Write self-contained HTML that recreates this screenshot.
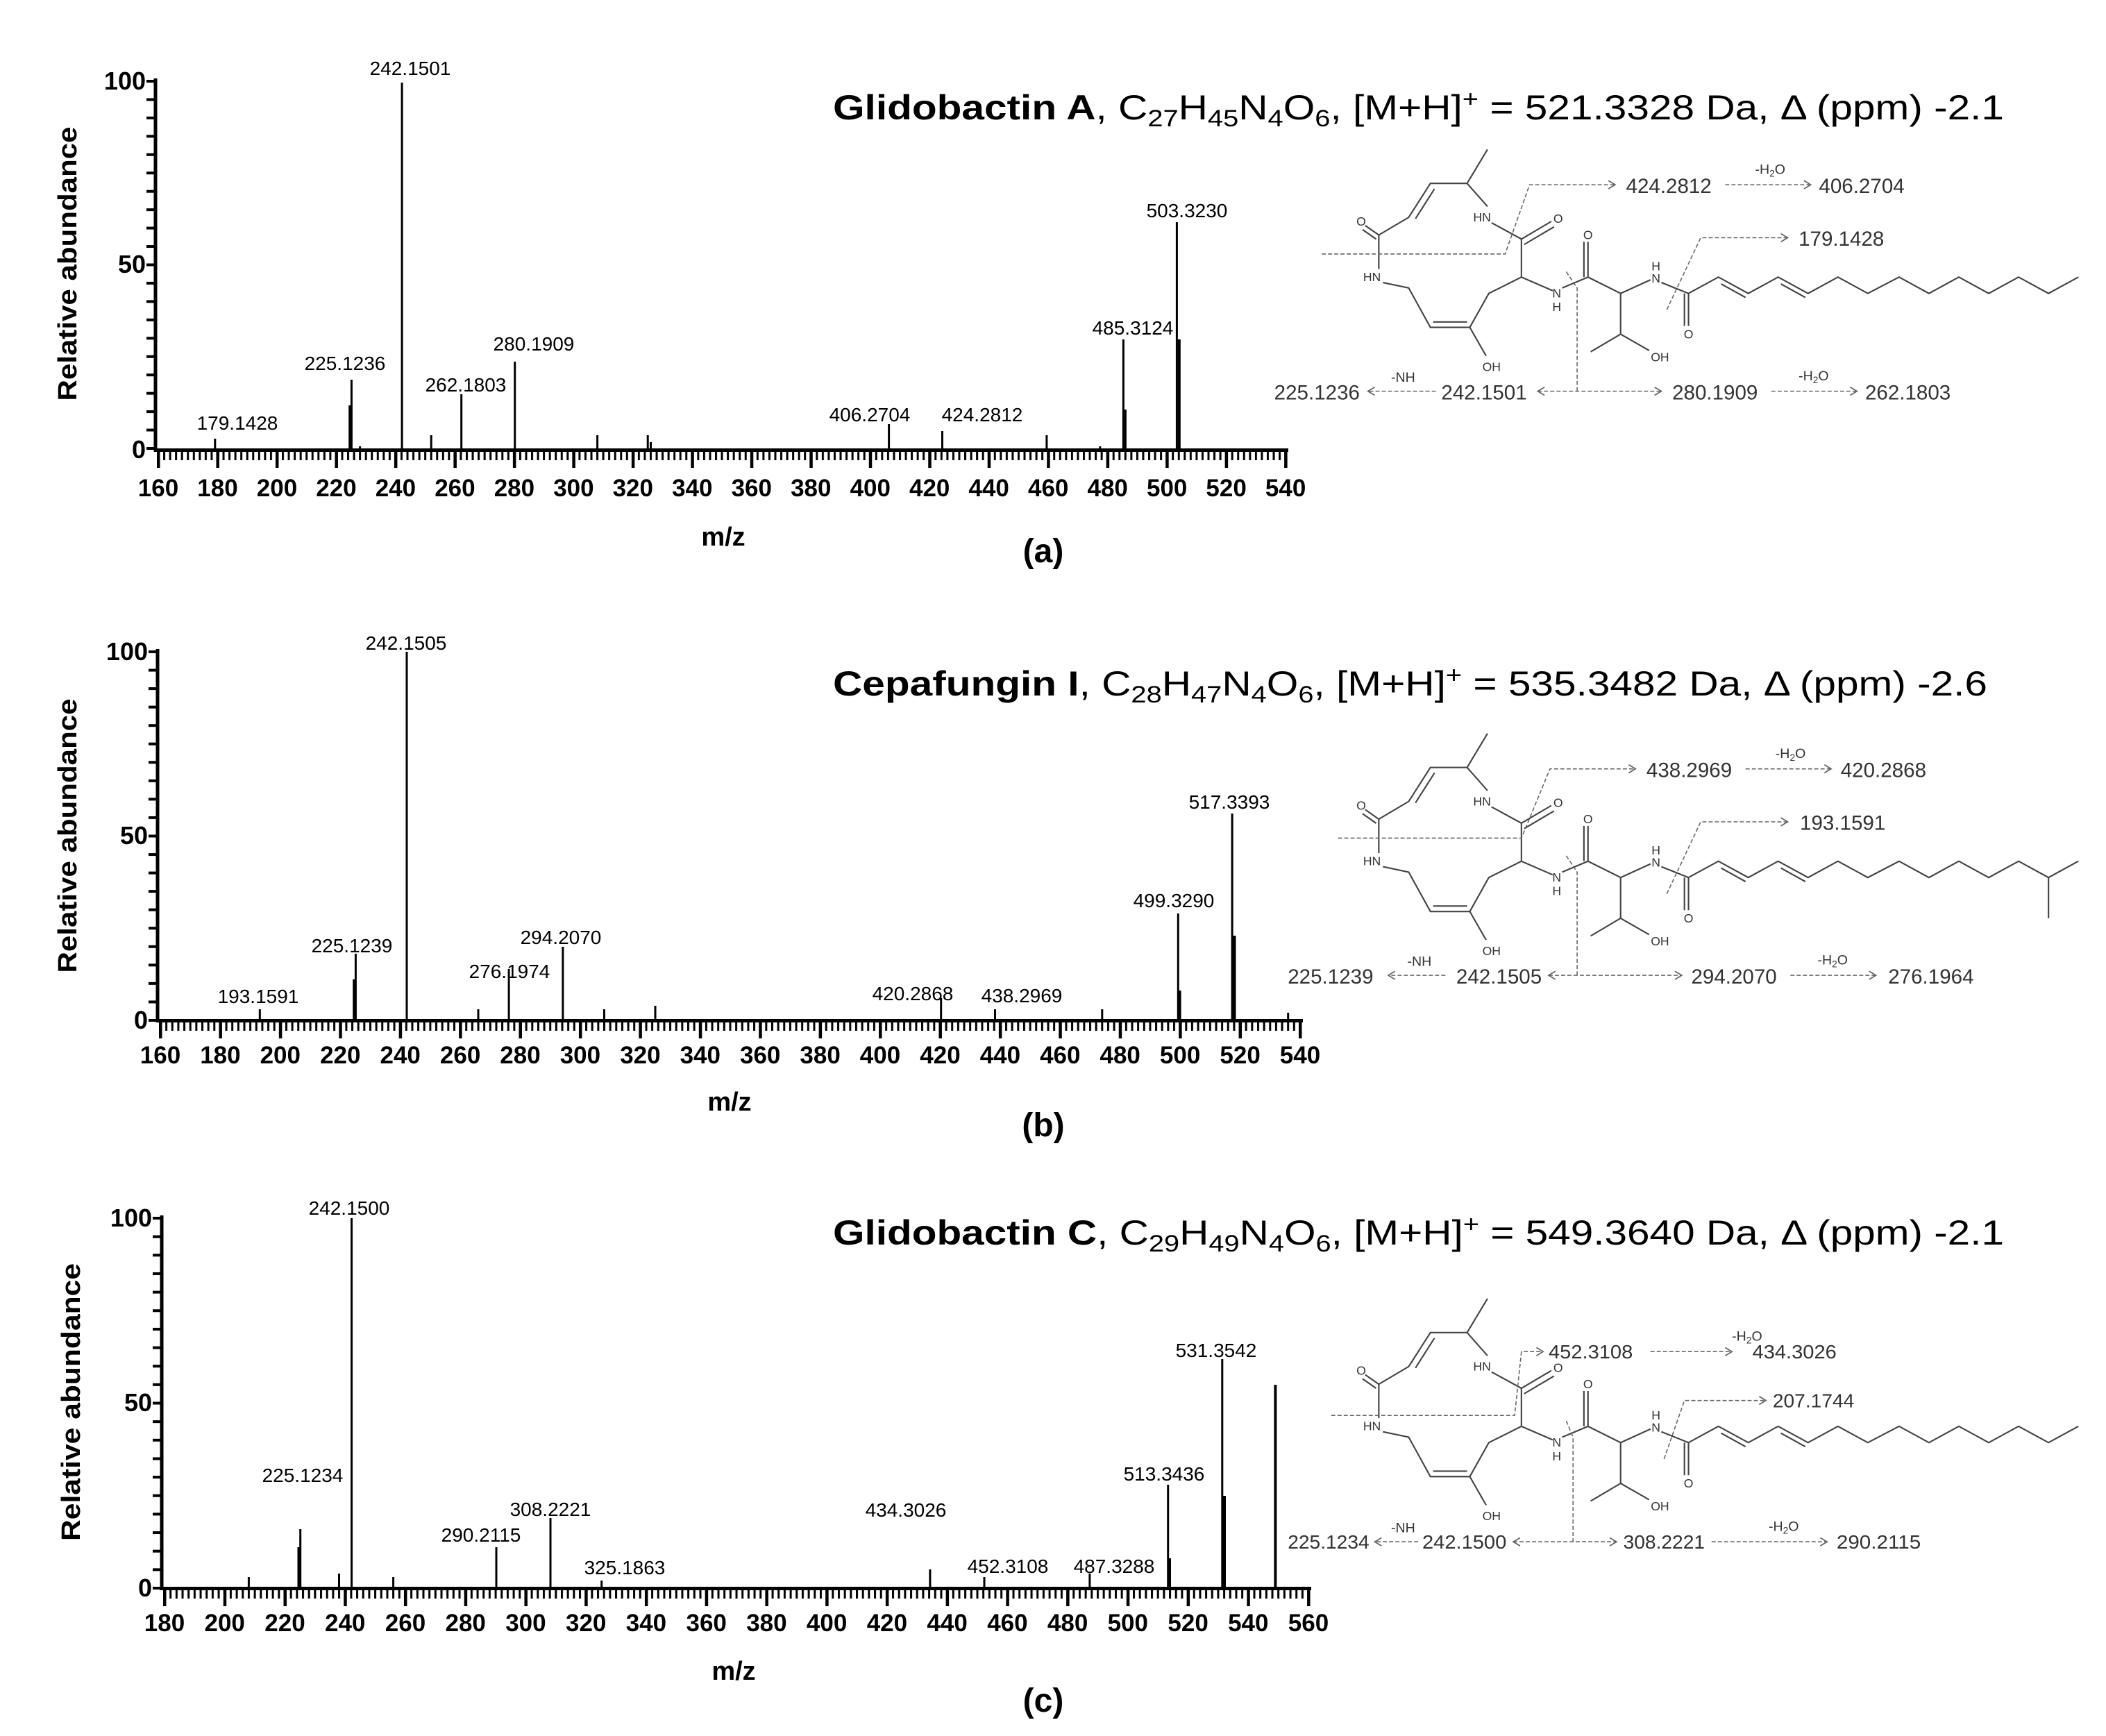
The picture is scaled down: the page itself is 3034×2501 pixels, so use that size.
<!DOCTYPE html>
<html><head><meta charset="utf-8"><style>
html,body{margin:0;padding:0;background:#fff;}
svg{display:block;font-family:"Liberation Sans",Arial,sans-serif;}
</style></head><body>
<svg width="3034" height="2501" viewBox="0 0 3034 2501" xmlns="http://www.w3.org/2000/svg">
<defs>
<pattern id="am" x="226.5" y="0" width="8.548" height="100" patternUnits="userSpaceOnUse"><rect width="3" height="100" fill="#000"/></pattern>
<pattern id="aM" x="226" y="0" width="85.48" height="100" patternUnits="userSpaceOnUse"><rect width="4.5" height="100" fill="#000"/></pattern>
<pattern id="bm" x="229.5" y="0" width="8.642" height="100" patternUnits="userSpaceOnUse"><rect width="3" height="100" fill="#000"/></pattern>
<pattern id="bM" x="229" y="0" width="86.42" height="100" patternUnits="userSpaceOnUse"><rect width="4.5" height="100" fill="#000"/></pattern>
<pattern id="cm" x="235.5" y="0" width="8.674" height="100" patternUnits="userSpaceOnUse"><rect width="3" height="100" fill="#000"/></pattern>
<pattern id="cM" x="235" y="0" width="86.74" height="100" patternUnits="userSpaceOnUse"><rect width="4.5" height="100" fill="#000"/></pattern>
<pattern id="ay" x="0" y="115" width="100" height="26.45" patternUnits="userSpaceOnUse"><rect width="100" height="4" fill="#000"/></pattern>
<pattern id="by" x="0" y="937" width="100" height="26.55" patternUnits="userSpaceOnUse"><rect width="100" height="4" fill="#000"/></pattern>
<pattern id="cy" x="0" y="1753" width="100" height="26.65" patternUnits="userSpaceOnUse"><rect width="100" height="4" fill="#000"/></pattern>
<marker id="ar" markerWidth="8" markerHeight="8" refX="6" refY="4" orient="auto-start-reverse" markerUnits="userSpaceOnUse"><path d="M1,1 L6,4 L1,7" fill="none" stroke="#666" stroke-width="0.9"/></marker>
</defs>
<rect width="3034" height="2501" fill="#fff"/>

<!-- ===================== PANEL A ===================== -->
<g>
<rect x="226" y="650" width="1630" height="13" fill="url(#am)"/>
<rect x="226" y="650" width="1630" height="24" fill="url(#aM)"/>
<rect x="211" y="115" width="13" height="536" fill="url(#ay)"/>
<line x1="224" y1="113" x2="224" y2="651" stroke="#000" stroke-width="5"/>
<line x1="222" y1="648.5" x2="1856" y2="648.5" stroke="#000" stroke-width="5"/>
<g font-weight="bold" font-size="36" text-anchor="end"><text x="210" y="129">100</text><text x="210" y="393">50</text><text x="210" y="660">0</text></g>
<g font-weight="bold" font-size="35" text-anchor="middle">
<text x="228" y="715">160</text><text x="313.5" y="715">180</text><text x="399" y="715">200</text><text x="484.4" y="715">220</text><text x="569.9" y="715">240</text><text x="655.4" y="715">260</text><text x="740.9" y="715">280</text><text x="826.4" y="715">300</text><text x="911.8" y="715">320</text><text x="997.3" y="715">340</text><text x="1082.8" y="715">360</text><text x="1168.3" y="715">380</text><text x="1253.8" y="715">400</text><text x="1339.2" y="715">420</text><text x="1424.7" y="715">440</text><text x="1510.2" y="715">460</text><text x="1595.7" y="715">480</text><text x="1681.2" y="715">500</text><text x="1766.6" y="715">520</text><text x="1852.1" y="715">540</text>
</g>
<text x="1042" y="786" font-weight="bold" font-size="38" text-anchor="middle">m/z</text>
<text x="1503" y="810" font-weight="bold" font-size="48" text-anchor="middle">(a)</text>
<text transform="translate(110,380) rotate(-90)" font-weight="bold" font-size="38" text-anchor="middle" textLength="395" lengthAdjust="spacingAndGlyphs">Relative abundance</text>
<g stroke="#000" stroke-width="3">
<line x1="309.8" y1="648" x2="309.8" y2="632"/><line x1="503.7" y1="648" x2="503.7" y2="584"/><line x1="506.4" y1="648" x2="506.4" y2="547"/><line x1="518.6" y1="648" x2="518.6" y2="643"/><line x1="579.1" y1="648" x2="579.1" y2="119"/><line x1="621.2" y1="648" x2="621.2" y2="627"/><line x1="664.7" y1="648" x2="664.7" y2="568"/><line x1="741.7" y1="648" x2="741.7" y2="521"/><line x1="860.6" y1="648" x2="860.6" y2="627"/><line x1="933.2" y1="648" x2="933.2" y2="627"/><line x1="937.5" y1="648" x2="937.5" y2="637"/><line x1="1280.6" y1="648" x2="1280.6" y2="611"/><line x1="1357.5" y1="648" x2="1357.5" y2="621"/><line x1="1507.9" y1="648" x2="1507.9" y2="627"/><line x1="1584.8" y1="648" x2="1584.8" y2="643"/><line x1="1618.4" y1="648" x2="1618.4" y2="489"/><line x1="1621.4" y1="648" x2="1621.4" y2="590"/><line x1="1695.4" y1="648" x2="1695.4" y2="320"/><line x1="1698.8" y1="648" x2="1698.8" y2="489" stroke-width="4"/>
</g>
<g font-size="28" text-anchor="middle">
<text x="342" y="619">179.1428</text><text x="497" y="533">225.1236</text><text x="591" y="108">242.1501</text><text x="671" y="564">262.1803</text><text x="769" y="505">280.1909</text><text x="1253" y="607">406.2704</text><text x="1415" y="607">424.2812</text><text x="1632" y="482">485.3124</text><text x="1710" y="313">503.3230</text>
</g>
<text x="1200" y="172" font-size="50" textLength="1687" lengthAdjust="spacingAndGlyphs"><tspan font-weight="bold">Glidobactin A</tspan>, C<tspan font-size="34" dy="10">27</tspan><tspan dy="-10">H</tspan><tspan font-size="34" dy="10">45</tspan><tspan dy="-10">N</tspan><tspan font-size="34" dy="10">4</tspan><tspan dy="-10">O</tspan><tspan font-size="34" dy="10">6</tspan><tspan dy="-10">, [M+H]</tspan><tspan font-size="34" dy="-18">+</tspan><tspan dy="18"> = 521.3328 Da, Δ (ppm) -2.1</tspan></text>
</g>

<!-- ===================== PANEL B ===================== -->
<g>
<rect x="229" y="1472" width="1648" height="13" fill="url(#bm)"/>
<rect x="229" y="1472" width="1648" height="24" fill="url(#bM)"/>
<rect x="214" y="937" width="13" height="536" fill="url(#by)"/>
<line x1="227" y1="935" x2="227" y2="1473" stroke="#000" stroke-width="5"/>
<line x1="225" y1="1470.5" x2="1877" y2="1470.5" stroke="#000" stroke-width="5"/>
<g font-weight="bold" font-size="36" text-anchor="end"><text x="213" y="951">100</text><text x="213" y="1216">50</text><text x="213" y="1482">0</text></g>
<g font-weight="bold" font-size="35" text-anchor="middle">
<text x="231" y="1532">160</text><text x="317.4" y="1532">180</text><text x="403.8" y="1532">200</text><text x="490.3" y="1532">220</text><text x="576.7" y="1532">240</text><text x="663.1" y="1532">260</text><text x="749.5" y="1532">280</text><text x="835.9" y="1532">300</text><text x="922.4" y="1532">320</text><text x="1008.8" y="1532">340</text><text x="1095.2" y="1532">360</text><text x="1181.6" y="1532">380</text><text x="1268" y="1532">400</text><text x="1354.5" y="1532">420</text><text x="1440.9" y="1532">440</text><text x="1527.3" y="1532">460</text><text x="1613.7" y="1532">480</text><text x="1700.1" y="1532">500</text><text x="1786.6" y="1532">520</text><text x="1873" y="1532">540</text>
</g>
<text x="1051" y="1600" font-weight="bold" font-size="38" text-anchor="middle">m/z</text>
<text x="1503" y="1637" font-weight="bold" font-size="48" text-anchor="middle">(b)</text>
<text transform="translate(110,1204) rotate(-90)" font-weight="bold" font-size="38" text-anchor="middle" textLength="395" lengthAdjust="spacingAndGlyphs">Relative abundance</text>
<g stroke="#000" stroke-width="3">
<line x1="374.3" y1="1470" x2="374.3" y2="1454"/><line x1="509.7" y1="1470" x2="509.7" y2="1411"/><line x1="512.4" y1="1470" x2="512.4" y2="1374"/><line x1="586" y1="1470" x2="586" y2="939"/><line x1="689" y1="1470" x2="689" y2="1454"/><line x1="733.1" y1="1470" x2="733.1" y2="1396"/><line x1="810.9" y1="1470" x2="810.9" y2="1364"/><line x1="870.5" y1="1470" x2="870.5" y2="1454"/><line x1="944" y1="1470" x2="944" y2="1449"/><line x1="1355.7" y1="1470" x2="1355.7" y2="1438"/><line x1="1433.5" y1="1470" x2="1433.5" y2="1454"/><line x1="1587.8" y1="1470" x2="1587.8" y2="1454"/><line x1="1697.3" y1="1470" x2="1697.3" y2="1316"/><line x1="1700.1" y1="1470" x2="1700.1" y2="1427"/><line x1="1775.1" y1="1470" x2="1775.1" y2="1172"/><line x1="1778.5" y1="1470" x2="1778.5" y2="1348" stroke-width="4"/><line x1="1855.7" y1="1470" x2="1855.7" y2="1459"/>
</g>
<g font-size="28" text-anchor="middle">
<text x="372" y="1445">193.1591</text><text x="507" y="1372">225.1239</text><text x="585" y="936">242.1505</text><text x="734" y="1409">276.1974</text><text x="808" y="1360">294.2070</text><text x="1315" y="1441">420.2868</text><text x="1472" y="1444">438.2969</text><text x="1691" y="1307">499.3290</text><text x="1771" y="1165">517.3393</text>
</g>
<text x="1200" y="1002" font-size="50" textLength="1663" lengthAdjust="spacingAndGlyphs"><tspan font-weight="bold">Cepafungin I</tspan>, C<tspan font-size="34" dy="10">28</tspan><tspan dy="-10">H</tspan><tspan font-size="34" dy="10">47</tspan><tspan dy="-10">N</tspan><tspan font-size="34" dy="10">4</tspan><tspan dy="-10">O</tspan><tspan font-size="34" dy="10">6</tspan><tspan dy="-10">, [M+H]</tspan><tspan font-size="34" dy="-18">+</tspan><tspan dy="18"> = 535.3482 Da, Δ (ppm) -2.6</tspan></text>
</g>

<!-- ===================== PANEL C ===================== -->
<g>
<rect x="235" y="2290" width="1654" height="13" fill="url(#cm)"/>
<rect x="235" y="2290" width="1654" height="24" fill="url(#cM)"/>
<rect x="220" y="1753" width="13" height="537" fill="url(#cy)"/>
<line x1="233" y1="1751" x2="233" y2="2291" stroke="#000" stroke-width="5"/>
<line x1="231" y1="2288.5" x2="1889" y2="2288.5" stroke="#000" stroke-width="5"/>
<g font-weight="bold" font-size="36" text-anchor="end"><text x="219" y="1767">100</text><text x="219" y="2033">50</text><text x="219" y="2300">0</text></g>
<g font-weight="bold" font-size="35" text-anchor="middle">
<text x="237" y="2350">180</text><text x="323.7" y="2350">200</text><text x="410.5" y="2350">220</text><text x="497.2" y="2350">240</text><text x="584" y="2350">260</text><text x="670.7" y="2350">280</text><text x="757.4" y="2350">300</text><text x="844.2" y="2350">320</text><text x="930.9" y="2350">340</text><text x="1017.7" y="2350">360</text><text x="1104.4" y="2350">380</text><text x="1191.1" y="2350">400</text><text x="1277.9" y="2350">420</text><text x="1364.6" y="2350">440</text><text x="1451.4" y="2350">460</text><text x="1538.1" y="2350">480</text><text x="1624.8" y="2350">500</text><text x="1711.6" y="2350">520</text><text x="1798.3" y="2350">540</text><text x="1885" y="2350">560</text>
</g>
<text x="1057" y="2420" font-weight="bold" font-size="38" text-anchor="middle">m/z</text>
<text x="1503" y="2466" font-weight="bold" font-size="48" text-anchor="middle">(c)</text>
<text transform="translate(115,2020) rotate(-90)" font-weight="bold" font-size="38" text-anchor="middle" textLength="400" lengthAdjust="spacingAndGlyphs">Relative abundance</text>
<g stroke="#000" stroke-width="3">
<line x1="358.4" y1="2288" x2="358.4" y2="2272"/><line x1="430" y1="2288" x2="430" y2="2229"/><line x1="432.7" y1="2288" x2="432.7" y2="2203"/><line x1="488.5" y1="2288" x2="488.5" y2="2267"/><line x1="506.5" y1="2288" x2="506.5" y2="1755"/><line x1="566.6" y1="2288" x2="566.6" y2="2272"/><line x1="715" y1="2288" x2="715" y2="2229"/><line x1="793" y1="2288" x2="793" y2="2187"/><line x1="866.7" y1="2288" x2="866.7" y2="2277"/><line x1="1339.9" y1="2288" x2="1339.9" y2="2261"/><line x1="1418" y1="2288" x2="1418" y2="2272"/><line x1="1569.9" y1="2288" x2="1569.9" y2="2267"/><line x1="1682.7" y1="2288" x2="1682.7" y2="2139"/><line x1="1685.5" y1="2288" x2="1685.5" y2="2245"/><line x1="1760.8" y1="2288" x2="1760.8" y2="1958"/><line x1="1764" y1="2288" x2="1764" y2="2155" stroke-width="4"/><line x1="1837.4" y1="2288" x2="1837.4" y2="1995" stroke-width="4"/>
</g>
<g font-size="28" text-anchor="middle">
<text x="503" y="1750">242.1500</text><text x="436" y="2135">225.1234</text><text x="693" y="2221">290.2115</text><text x="793" y="2184">308.2221</text><text x="900" y="2268">325.1863</text><text x="1305" y="2185">434.3026</text><text x="1452" y="2266">452.3108</text><text x="1605" y="2266">487.3288</text><text x="1677" y="2133">513.3436</text><text x="1752" y="1955">531.3542</text>
</g>
<text x="1200" y="1793" font-size="50" textLength="1687" lengthAdjust="spacingAndGlyphs"><tspan font-weight="bold">Glidobactin C</tspan>, C<tspan font-size="34" dy="10">29</tspan><tspan dy="-10">H</tspan><tspan font-size="34" dy="10">49</tspan><tspan dy="-10">N</tspan><tspan font-size="34" dy="10">4</tspan><tspan dy="-10">O</tspan><tspan font-size="34" dy="10">6</tspan><tspan dy="-10">, [M+H]</tspan><tspan font-size="34" dy="-18">+</tspan><tspan dy="18"> = 549.3640 Da, Δ (ppm) -2.1</tspan></text>
</g>

<!-- ===================== STRUCTURES ===================== -->
<!-- A -->
<g transform="scale(1.957)">
<g stroke="#444" stroke-width="1.1" fill="none">
<path d="M1095,110 L1080,135 L1053,135 L1037,160 L1015,173 L1015,198 M1056,139 L1042,161 M1015,173 L1005,166 M1013,176 L1003,169 M1018,208 L1037,212 L1053,241 L1082,241 L1096,216 L1120,204 L1120,176 L1098,164 M1080,135 L1095,152 M1055,237 L1080,237 M1082,241 L1094,262 M1120,176 L1142,163 M1122,180 L1144,167 M1120,204 L1143,214 M1150,212 L1169,204 L1169,178 M1166,204 L1166,178 M1169,204 L1193,216 L1193,246 L1171,259 M1193,246 L1214,258 M1193,216 L1215,206 M1223,208 L1243,216 L1243,240 M1240,216 L1240,240 M1243,216 L1265,204 L1287,216 L1309,204 L1331,216 L1353,204 L1375,216 L1398,204 L1420,216 L1442,204 L1464,216 L1486,204 L1508,216 L1530,204 M1267,209 L1285,219 M1311,209 L1329,219"/>
</g>
<g font-size="9" fill="#333" text-anchor="middle">
<text x="1002" y="166">O</text><text x="1010" y="207">HN</text><text x="1098" y="273">OH</text><text x="1091" y="163">HN</text><text x="1147" y="164">O</text><text x="1146" y="219">N</text><text x="1146" y="229">H</text><text x="1169" y="176">O</text><text x="1222" y="266">OH</text><text x="1219" y="208">N</text><text x="1219" y="199">H</text><text x="1243" y="249">O</text>
</g>
<g stroke="#666" stroke-width="0.8" fill="none" stroke-dasharray="3,1.6">
<path d="M973,187 L1108,187 L1126,136 L1189,136" marker-end="url(#ar)"/>
<path d="M1270,136 L1333,136" marker-end="url(#ar)"/>
<path d="M1227,228 L1252,175 L1316,175" marker-end="url(#ar)"/>
<path d="M1153,200 L1161,212 L1161,288"/>
<path d="M1057,288 L1007,288" marker-end="url(#ar)"/>
<path d="M1132,288 L1223,288" marker-start="url(#ar)" marker-end="url(#ar)"/>
<path d="M1304,288 L1367,288" marker-end="url(#ar)"/>
</g>
<g font-size="15" fill="#333">
<text x="1197" y="142" textLength="63" lengthAdjust="spacingAndGlyphs">424.2812</text><text x="1339" y="142" textLength="63" lengthAdjust="spacingAndGlyphs">406.2704</text>
<text x="1324" y="181" textLength="63" lengthAdjust="spacingAndGlyphs">179.1428</text>
<text x="938" y="294" textLength="63" lengthAdjust="spacingAndGlyphs">225.1236</text><text x="1061" y="294" textLength="63" lengthAdjust="spacingAndGlyphs">242.1501</text><text x="1231" y="294" textLength="63" lengthAdjust="spacingAndGlyphs">280.1909</text><text x="1373" y="294" textLength="63" lengthAdjust="spacingAndGlyphs">262.1803</text>
<text x="1292" y="128" font-size="10">-H<tspan font-size="7" dy="2">2</tspan><tspan dy="-2">O</tspan></text>
<text x="1024" y="281" font-size="10">-NH</text><text x="1324" y="280" font-size="10">-H<tspan font-size="7" dy="2">2</tspan><tspan dy="-2">O</tspan></text>
</g>
</g>

<!-- B -->
<g transform="scale(1.957) translate(0,430)">
<g stroke="#444" stroke-width="1.1" fill="none">
<path d="M1095,110 L1080,135 L1053,135 L1037,160 L1015,173 L1015,198 M1056,139 L1042,161 M1015,173 L1005,166 M1013,176 L1003,169 M1018,208 L1037,212 L1053,241 L1082,241 L1096,216 L1120,204 L1120,176 L1098,164 M1080,135 L1095,152 M1055,237 L1080,237 M1082,241 L1094,262 M1120,176 L1142,163 M1122,180 L1144,167 M1120,204 L1143,214 M1150,212 L1169,204 L1169,178 M1166,204 L1166,178 M1169,204 L1193,216 L1193,246 L1171,259 M1193,246 L1214,258 M1193,216 L1215,206 M1223,208 L1243,216 L1243,240 M1240,216 L1240,240 M1243,216 L1265,204 L1287,216 L1309,204 L1331,216 L1353,204 L1375,216 L1398,204 L1420,216 L1442,204 L1464,216 L1486,204 L1508,216 L1530,204 M1267,209 L1285,219 M1311,209 L1329,219 M1508,216 L1508,246"/>
</g>
<g font-size="9" fill="#333" text-anchor="middle">
<text x="1002" y="166">O</text><text x="1010" y="207">HN</text><text x="1098" y="273">OH</text><text x="1091" y="163">HN</text><text x="1147" y="164">O</text><text x="1146" y="219">N</text><text x="1146" y="229">H</text><text x="1169" y="176">O</text><text x="1222" y="266">OH</text><text x="1219" y="208">N</text><text x="1219" y="199">H</text><text x="1243" y="249">O</text>
</g>
<g stroke="#666" stroke-width="0.8" fill="none" stroke-dasharray="3,1.6">
<path d="M985,187 L1120,187 L1141,136 L1204,136" marker-end="url(#ar)"/>
<path d="M1285,136 L1348,136" marker-end="url(#ar)"/>
<path d="M1227,228 L1252,175 L1316,175" marker-end="url(#ar)"/>
<path d="M1153,200 L1161,212 L1161,288"/>
<path d="M1064,288 L1022,288" marker-end="url(#ar)"/>
<path d="M1140,288 L1238,288" marker-start="url(#ar)" marker-end="url(#ar)"/>
<path d="M1318,288 L1381,288" marker-end="url(#ar)"/>
</g>
<g font-size="15" fill="#333">
<text x="1212" y="142" textLength="63" lengthAdjust="spacingAndGlyphs">438.2969</text><text x="1355" y="142" textLength="63" lengthAdjust="spacingAndGlyphs">420.2868</text>
<text x="1325" y="181" textLength="63" lengthAdjust="spacingAndGlyphs">193.1591</text>
<text x="948" y="294" textLength="63" lengthAdjust="spacingAndGlyphs">225.1239</text><text x="1072" y="294" textLength="63" lengthAdjust="spacingAndGlyphs">242.1505</text><text x="1245" y="294" textLength="63" lengthAdjust="spacingAndGlyphs">294.2070</text><text x="1390" y="294" textLength="63" lengthAdjust="spacingAndGlyphs">276.1964</text>
<text x="1307" y="128" font-size="10">-H<tspan font-size="7" dy="2">2</tspan><tspan dy="-2">O</tspan></text>
<text x="1036" y="281" font-size="10">-NH</text><text x="1338" y="280" font-size="10">-H<tspan font-size="7" dy="2">2</tspan><tspan dy="-2">O</tspan></text>
</g>
</g>

<!-- C -->
<g transform="scale(1.957) translate(0,846)">
<g stroke="#444" stroke-width="1.1" fill="none">
<path d="M1095,110 L1080,135 L1053,135 L1037,160 L1015,173 L1015,198 M1056,139 L1042,161 M1015,173 L1005,166 M1013,176 L1003,169 M1018,208 L1037,212 L1053,241 L1082,241 L1096,216 L1120,204 L1120,176 L1098,164 M1080,135 L1095,152 M1055,237 L1080,237 M1082,241 L1094,262 M1120,176 L1142,163 M1122,180 L1144,167 M1120,204 L1143,214 M1150,212 L1169,204 L1169,178 M1166,204 L1166,178 M1169,204 L1193,216 L1193,246 L1171,259 M1193,246 L1214,258 M1193,216 L1215,206 M1223,208 L1243,216 L1243,240 M1240,216 L1240,240 M1243,216 L1265,204 L1287,216 L1309,204 L1331,216 L1353,204 L1375,216 L1398,204 L1420,216 L1442,204 L1464,216 L1486,204 L1508,216 L1530,204 M1267,209 L1285,219 M1311,209 L1329,219"/>
</g>
<g font-size="9" fill="#333" text-anchor="middle">
<text x="1002" y="166">O</text><text x="1010" y="207">HN</text><text x="1098" y="273">OH</text><text x="1091" y="163">HN</text><text x="1147" y="164">O</text><text x="1146" y="219">N</text><text x="1146" y="229">H</text><text x="1169" y="176">O</text><text x="1222" y="266">OH</text><text x="1219" y="208">N</text><text x="1219" y="199">H</text><text x="1243" y="249">O</text>
</g>
<g stroke="#666" stroke-width="0.8" fill="none" stroke-dasharray="3,1.6">
<path d="M980,196 L1115,196 L1120,149 L1136,149" marker-end="url(#ar)"/>
<path d="M1215,149 L1275,149" marker-end="url(#ar)"/>
<path d="M1225,228 L1240,185 L1300,185" marker-end="url(#ar)"/>
<path d="M1153,200 L1158,212 L1158,289"/>
<path d="M1044,289 L1012,289" marker-end="url(#ar)"/>
<path d="M1114,289 L1190,289" marker-start="url(#ar)" marker-end="url(#ar)"/>
<path d="M1260,289 L1345,289" marker-end="url(#ar)"/>
</g>
<g font-size="14" fill="#333">
<text x="1140" y="154" textLength="62" lengthAdjust="spacingAndGlyphs">452.3108</text><text x="1290" y="154" textLength="62" lengthAdjust="spacingAndGlyphs">434.3026</text>
<text x="1305" y="190" textLength="60" lengthAdjust="spacingAndGlyphs">207.1744</text>
<text x="948" y="294" textLength="60" lengthAdjust="spacingAndGlyphs">225.1234</text><text x="1047" y="294" textLength="62" lengthAdjust="spacingAndGlyphs">242.1500</text><text x="1195" y="294" textLength="60" lengthAdjust="spacingAndGlyphs">308.2221</text><text x="1352" y="294" textLength="62" lengthAdjust="spacingAndGlyphs">290.2115</text>
<text x="1275" y="141" font-size="10">-H<tspan font-size="7" dy="2">2</tspan><tspan dy="-2">O</tspan></text>
<text x="1024" y="282" font-size="10">-NH</text><text x="1302" y="281" font-size="10">-H<tspan font-size="7" dy="2">2</tspan><tspan dy="-2">O</tspan></text>
</g>
</g>
</svg>
</body></html>
